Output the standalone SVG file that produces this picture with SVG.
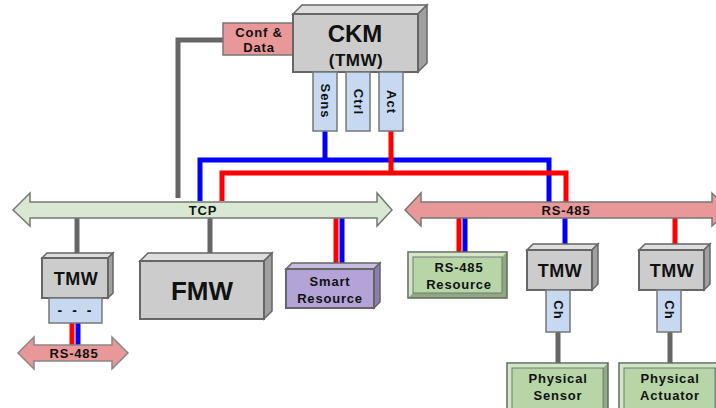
<svg xmlns="http://www.w3.org/2000/svg" width="716" height="408" viewBox="0 0 716 408">
<style>
text{font-family:"Liberation Sans",Arial,sans-serif;font-weight:bold;fill:#111;text-anchor:middle}
.lbl{font-size:13px;letter-spacing:0.8px}
.vl{font-size:13px;letter-spacing:1px}
.front{fill:#cccccc;stroke:#666;stroke-width:2}
.top{fill:#dedede;stroke:#666;stroke-width:1.5}
.side{fill:#a0a0a0;stroke:#666;stroke-width:1.5}
.blue{fill:#c6d9f1;stroke:#777;stroke-width:1.5}
.pink{fill:#e89898;stroke:#777;stroke-width:1.5}
.g{stroke:#666;stroke-width:5;fill:none}
.b{stroke:#0000ff;stroke-width:5;fill:none}
.r{stroke:#ff0000;stroke-width:5;fill:none}
.bevo{fill:#8eab80;stroke:#666;stroke-width:1.5}
.bevl{fill:#d3e6c8}
.bevi{fill:#b7d5a6;stroke:#777;stroke-width:1}
</style>

<g id="connectors">
  <path class="g" d="M223,40 H178 V198"/>
  <path class="b" d="M325,131 V160"/>
  <path class="b" d="M200,201 V160 H549 V202"/>
  <path class="r" d="M391,131 V173"/>
  <path class="r" d="M222,201 V173 H566 V202"/>
  <path class="g" d="M77,218 V254"/>
  <path class="g" d="M210,218 V253"/>
  <path class="r" d="M336,218 V265"/>
  <path class="b" d="M342,218 V265"/>
  <path class="r" d="M72,323 V346"/>
  <path class="b" d="M78,323 V346"/>
  <path class="r" d="M459,218 V252"/>
  <path class="b" d="M465,218 V252"/>
  <path class="b" d="M565,218 V245"/>
  <path class="r" d="M675,218 V245"/>
  <path class="g" d="M558,332 V363"/>
  <path class="g" d="M670,332 V363"/>
</g>

<g id="tcp">
  <polygon points="13,210 30,193 30,202 377,202 377,193 392,210 377,226 377,218 30,218 30,226" fill="#d8e8d2" stroke="#777" stroke-width="1.5"/>
  <text class="lbl" x="203" y="215">TCP</text>
</g>
<g id="rs485-bus">
  <polygon points="405,210 421,193 421,202 712,202 712,193 729,210 712,226 712,218 421,218 421,226" fill="#e89898" stroke="#777" stroke-width="1.5"/>
  <text class="lbl" x="566" y="215">RS-485</text>
</g>
<g id="rs485-small">
  <polygon points="18,353 34,337 34,345 112,345 112,337 128,353 112,369 112,361 34,361 34,369" fill="#e89898" stroke="#888" stroke-width="1.5"/>
  <text class="lbl" x="74" y="358">RS-485</text>
</g>

<g id="conf-data">
  <rect class="pink" x="223" y="23" width="70" height="32"/>
  <text class="lbl" x="259" y="37">Conf &amp;</text>
  <text class="lbl" x="259" y="52">Data</text>
</g>

<g id="ckm">
  <polygon class="top" points="293,14 302,5 427,5 418,14"/>
  <polygon class="side" points="418,14 427,5 427,63 418,72"/>
  <rect class="front" x="293" y="14" width="125" height="58"/>
  <text x="355" y="42" font-size="24">CKM</text>
  <text x="356" y="66" font-size="17" letter-spacing="0.5">(TMW)</text>
</g>
<g id="sens">
  <rect class="blue" x="313" y="72" width="24" height="59"/>
  <text class="vl" transform="translate(320.5,101) rotate(90)">Sens</text>
</g>
<g id="ctrl">
  <rect class="blue" x="346" y="72" width="24" height="59"/>
  <text class="vl" transform="translate(353.5,102) rotate(90)">Ctrl</text>
</g>
<g id="act">
  <rect class="blue" x="379" y="72" width="24" height="59"/>
  <text class="vl" transform="translate(386.5,102) rotate(90)">Act</text>
</g>

<g id="tmw-left">
  <polygon class="top" points="42,258 47,253 113,253 108,258"/>
  <polygon class="side" points="108,258 113,253 113,293 108,298"/>
  <rect class="front" x="42" y="258" width="66" height="40"/>
  <text x="76" y="285" font-size="18" letter-spacing="0.5">TMW</text>
</g>
<g id="dashes">
  <rect class="blue" x="49" y="298" width="53" height="25"/>
  <text x="76" y="315" font-size="14" letter-spacing="3">- - -</text>
</g>

<g id="fmw">
  <polygon class="top" points="140,261 148,253 272,253 264,261"/>
  <polygon class="side" points="264,261 272,253 272,311 264,319"/>
  <rect class="front" x="140" y="261" width="124" height="58"/>
  <text x="202" y="300" font-size="26">FMW</text>
</g>

<g id="smart-resource">
  <polygon points="286,269 292,263 380,263 374,269" fill="#c8bde3" stroke="#666" stroke-width="1.5"/>
  <polygon points="374,269 380,263 380,302 374,308" fill="#8c7cb0" stroke="#666" stroke-width="1.5"/>
  <rect x="286" y="269" width="88" height="39" fill="#b3a3d6" stroke="#666" stroke-width="2"/>
  <text class="lbl" x="330" y="286">Smart</text>
  <text class="lbl" x="330" y="303">Resource</text>
</g>

<g id="rs485-resource">
  <rect class="bevo" x="408" y="252" width="99" height="46"/>
  <polygon class="bevl" points="408.8,252.8 506.2,252.8 502,257 413,257 413,293 408.8,297.2"/>
  <rect class="bevi" x="413" y="257" width="89" height="36"/>
  <text class="lbl" x="459" y="272">RS-485</text>
  <text class="lbl" x="459" y="289">Resource</text>
</g>

<g id="tmw-mid">
  <polygon class="top" points="527,250 533,244 598,244 592,250"/>
  <polygon class="side" points="592,250 598,244 598,284 592,290"/>
  <rect class="front" x="527" y="250" width="65" height="40"/>
  <text x="560" y="277" font-size="18" letter-spacing="0.5">TMW</text>
</g>
<g id="ch-mid">
  <rect class="blue" x="546" y="290" width="24" height="42"/>
  <text class="vl" transform="translate(553.5,310) rotate(90)">Ch</text>
</g>

<g id="tmw-right">
  <polygon class="top" points="639,250 645,244 710,244 704,250"/>
  <polygon class="side" points="704,250 710,244 710,284 704,290"/>
  <rect class="front" x="639" y="250" width="65" height="40"/>
  <text x="672" y="277" font-size="18" letter-spacing="0.5">TMW</text>
</g>
<g id="ch-right">
  <rect class="blue" x="657" y="290" width="24" height="42"/>
  <text class="vl" transform="translate(664.5,310) rotate(90)">Ch</text>
</g>

<g id="physical-sensor">
  <rect class="bevo" x="507" y="363" width="101" height="50"/>
  <polygon class="bevl" points="507.8,363.8 607.2,363.8 603,368 512,368 512,412 507.8,412"/>
  <rect class="bevi" x="512" y="368" width="91" height="50"/>
  <text class="lbl" x="558" y="383">Physical</text>
  <text class="lbl" x="558" y="400">Sensor</text>
</g>

<g id="physical-actuator">
  <rect class="bevo" x="619" y="363" width="101" height="50"/>
  <polygon class="bevl" points="619.8,363.8 719.2,363.8 715,368 624,368 624,412 619.8,412"/>
  <rect class="bevi" x="624" y="368" width="91" height="50"/>
  <text class="lbl" x="670" y="383">Physical</text>
  <text class="lbl" x="670" y="400">Actuator</text>
</g>
</svg>
